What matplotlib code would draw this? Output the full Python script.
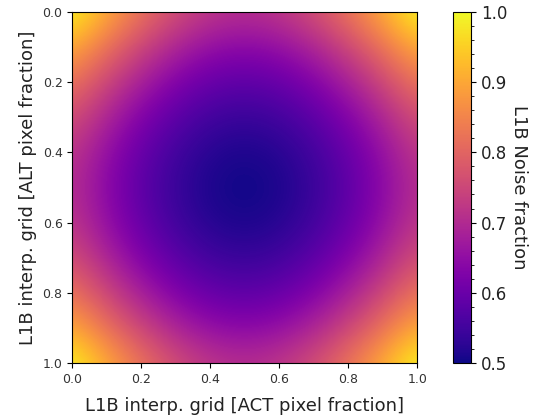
import numpy as np
from matplotlib import pyplot as plt

# pixel fraction sample points and noise fraction read along each edge
act_frac = [0.0, 0.1, 0.2, 0.3, 0.4, 0.5, 0.6, 0.7, 0.8, 0.9, 1.0]
alt_frac = [0.0, 0.1, 0.2, 0.3, 0.4, 0.5, 0.6, 0.7, 0.8, 0.9, 1.0]
act_noise = [1.0, 0.906, 0.825, 0.762, 0.721, 0.707, 0.721, 0.762, 0.825, 0.906, 1.0]
alt_noise = [1.0, 0.906, 0.825, 0.762, 0.721, 0.707, 0.721, 0.762, 0.825, 0.906, 1.0]

noise = np.outer(alt_noise, act_noise)

fig = plt.figure(figsize=(5.39, 4.18), dpi=100)
ax = fig.add_axes([0.134, 0.132, 0.640, 0.839])
cax = fig.add_axes([0.840, 0.132, 0.034, 0.839])

dx = (act_frac[1] - act_frac[0]) / 2
dy = (alt_frac[1] - alt_frac[0]) / 2
im = ax.imshow(noise, cmap="plasma", vmin=0.5, vmax=1.0, interpolation="bicubic",
               extent=[act_frac[0] - dx, act_frac[-1] + dx, alt_frac[-1] + dy, alt_frac[0] - dy],
               aspect="auto")
ax.set_xlim(0, 1)
ax.set_ylim(1, 0)
ax.set_xticks([0, 0.2, 0.4, 0.6, 0.8, 1.0])
ax.set_yticks([0, 0.2, 0.4, 0.6, 0.8, 1.0])
ax.tick_params(labelsize=9, labelcolor="#333333")
ax.set_xlabel("L1B interp. grid [ACT pixel fraction]", fontsize=13, color="#222222", labelpad=8)
ax.set_ylabel("L1B interp. grid [ALT pixel fraction]", fontsize=13, color="#222222", labelpad=4)

cb = fig.colorbar(im, cax=cax)
cb.set_ticks([0.5, 0.6, 0.7, 0.8, 0.9, 1.0])
cb.minorticks_on()
cb.ax.tick_params(labelsize=12, labelcolor="#222222")
cb.set_label("L1B Noise fraction", rotation=270, labelpad=15, fontsize=13, color="#222222")

plt.savefig("out.png", dpi=100)
